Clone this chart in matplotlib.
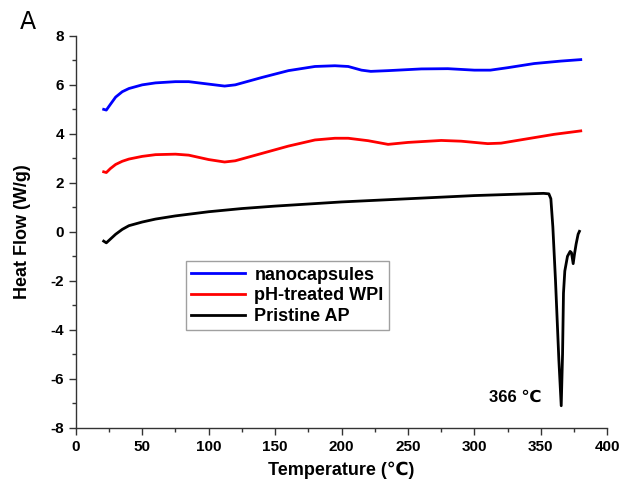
import numpy as np
import matplotlib
matplotlib.use("Agg")
from matplotlib import pyplot as plt
from matplotlib.ticker import MultipleLocator

plt.rcParams['font.family'] = ['Liberation Sans', 'DejaVu Sans', 'Noto Sans CJK SC']
plt.rcParams['axes.unicode_minus'] = False

# nanocapsules
t_nano = [21, 23, 26, 30, 35, 40, 50, 60, 75, 85, 100, 112, 120, 140, 160, 180, 195,
          205, 215, 222, 235, 260, 280, 300, 312, 325, 345, 365, 380]
hf_nano = [5.0, 4.97, 5.2, 5.5, 5.72, 5.85, 6.0, 6.08, 6.13, 6.13, 6.03, 5.95, 6.0,
           6.3, 6.58, 6.75, 6.78, 6.75, 6.6, 6.55, 6.58, 6.65, 6.66, 6.6, 6.6, 6.7,
           6.87, 6.97, 7.03]

# pH-treated WPI
t_wpi = [21, 23, 26, 30, 35, 40, 50, 60, 75, 85, 100, 112, 120, 140, 160, 180, 195,
         205, 220, 235, 250, 275, 290, 310, 320, 340, 360, 380]
hf_wpi = [2.45, 2.42, 2.58, 2.75, 2.88, 2.97, 3.08, 3.15, 3.17, 3.13, 2.95, 2.85, 2.9,
          3.2, 3.5, 3.75, 3.82, 3.82, 3.72, 3.57, 3.65, 3.73, 3.7, 3.6, 3.62, 3.8,
          3.98, 4.12]

# pristine AP
t_ap = [21, 23, 26, 30, 35, 40, 50, 60, 75, 100, 125, 150, 200, 250, 300, 340, 352,
        356, 357.5, 359, 361, 363.5, 365.3, 366.3, 367, 368, 370, 372, 373, 374.3,
        375.3, 376.5, 378, 379]
hf_ap = [-0.38, -0.45, -0.3, -0.1, 0.1, 0.25, 0.4, 0.52, 0.65, 0.82, 0.95, 1.05,
         1.22, 1.35, 1.48, 1.55, 1.57, 1.55, 1.35, 0.2, -2.0, -5.2, -7.1, -5.0, -2.5,
         -1.6, -1.0, -0.8, -0.85, -1.3, -0.9, -0.5, -0.1, 0.02]

fig = plt.figure(figsize=(6.21, 4.98), dpi=100)
ax = fig.add_axes([0.122, 0.141, 0.856, 0.787])

ax.plot(t_nano, hf_nano, color='#0000ff', lw=2, label='nanocapsules')
ax.plot(t_wpi, hf_wpi, color='#ff0000', lw=2, label='pH-treated WPI')
ax.plot(t_ap, hf_ap, color='black', lw=2, label='Pristine AP')

ax.set_xlim(0, 400)
ax.set_ylim(-8, 8)
ax.xaxis.set_major_locator(MultipleLocator(50))
ax.xaxis.set_minor_locator(MultipleLocator(25))
ax.yaxis.set_major_locator(MultipleLocator(2))
ax.yaxis.set_minor_locator(MultipleLocator(1))

for s in ['top', 'right']:
    ax.spines[s].set_visible(False)
for s in ['left', 'bottom']:
    ax.spines[s].set_color('#333333')
    ax.spines[s].set_linewidth(1.0)
ax.tick_params(which='major', direction='out', length=5, width=1, colors='#333333',
               labelcolor='black', labelsize=11)
ax.tick_params(which='minor', direction='out', length=3, width=1, colors='#333333')
for lab in ax.get_xticklabels() + ax.get_yticklabels():
    lab.set_fontweight('bold')

ax.set_xlabel('Temperature (℃)', fontsize=13, fontweight='bold', labelpad=6)
ax.set_ylabel('Heat Flow (W/g)', fontsize=13, fontweight='bold', labelpad=14)

ax.text(331, -6.75, '366 ℃', fontsize=12, fontweight='bold', ha='center', va='center')

leg = ax.legend(loc='upper left', bbox_to_anchor=(0.207, 0.425),
                prop={'weight': 'bold', 'size': 13}, frameon=True, fancybox=False,
                handlelength=3.0, handletextpad=0.5, borderpad=0.3, labelspacing=0.2,
                borderaxespad=0)
leg.get_frame().set_edgecolor('#888888')
leg.get_frame().set_linewidth(1.0)

fig.text(0.032, 0.955, 'A', fontsize=17, family=['DejaVu Sans'], va='center')

fig.savefig('out.png', dpi=100)
